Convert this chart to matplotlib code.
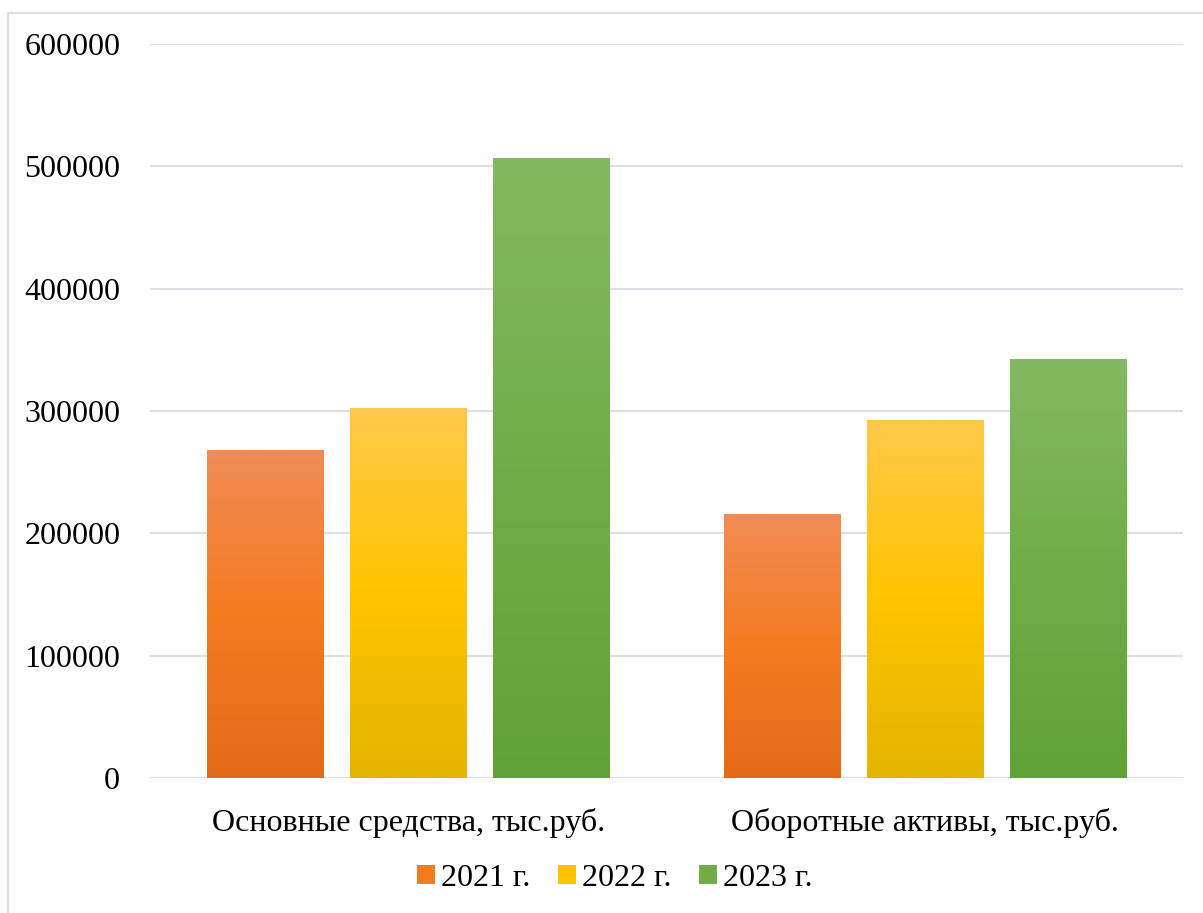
import matplotlib.pyplot as plt
import numpy as np
from matplotlib.colors import LinearSegmentedColormap
from matplotlib.patches import Patch
from matplotlib.lines import Line2D

plt.rcParams['font.family'] = ['Liberation Serif', 'DejaVu Serif']

categories = ['Основные средства, тыс.руб.', 'Оборотные активы, тыс.руб.']
years = ['2021 г.', '2022 г.', '2023 г.']
v2021 = [268000, 215000]
v2022 = [302000, 292000]
v2023 = [506000, 342000]
series = [v2021, v2022, v2023]

# градиенты: верх светлее, середина насыщенная, низ темнее
grads = [
    ['#F08C55', '#F47B20', '#E46A18'],
    ['#FFC84A', '#FFC400', '#E4B400'],
    ['#84B963', '#70AD47', '#61A236'],
]

fig = plt.figure(figsize=(12.03, 9.13), dpi=100)
ax = fig.add_axes([150/1203, 1-778/913, (1183-150)/1203, (778-44)/913])

x = np.arange(len(categories))
width = 0.2246
step = 0.277

for i, vals in enumerate(series):
    cmap = LinearSegmentedColormap.from_list('g%d' % i, grads[i][::-1])
    grad = np.linspace(0, 1, 256).reshape(-1, 1)
    for j, v in enumerate(vals):
        x0 = x[j] + (i - 1) * step - width / 2
        ax.imshow(grad, cmap=cmap, origin='lower', aspect='auto',
                  extent=(x0, x0 + width, 0, v), zorder=3,
                  interpolation='bilinear')

ax.set_xlim(-0.5, 1.5)
ax.set_ylim(0, 600000)
ax.set_yticks(np.arange(0, 600001, 100000))
ax.set_yticklabels([str(t) for t in range(0, 600001, 100000)])
ax.set_xticks(x)
ax.set_xticklabels(categories)
ax.grid(axis='y', color='#DCDFE4', linewidth=1.5, zorder=0)
ax.tick_params(axis='y', length=0, pad=21.5, labelsize=23)
ax.tick_params(axis='x', length=0, pad=21.5, labelsize=23)
for s in ax.spines.values():
    s.set_visible(False)

handles = [Patch(facecolor=g[1], edgecolor='none') for g in grads]
fig.legend(handles, years, loc='center', bbox_to_anchor=(615/1203, 1-878/913),
           ncol=3, frameon=False, fontsize=23, handlelength=0.55, handleheight=0.55,
           handletextpad=0.2, columnspacing=0.87)

# рамка области диаграммы: видны только верх и левый край
fig.lines.append(Line2D([8/1203, 8/1203, 1], [0, 1-13/913, 1-13/913],
                        transform=fig.transFigure, color='#DCDFE4', linewidth=1.5))

fig.savefig('out.png', dpi=100)
